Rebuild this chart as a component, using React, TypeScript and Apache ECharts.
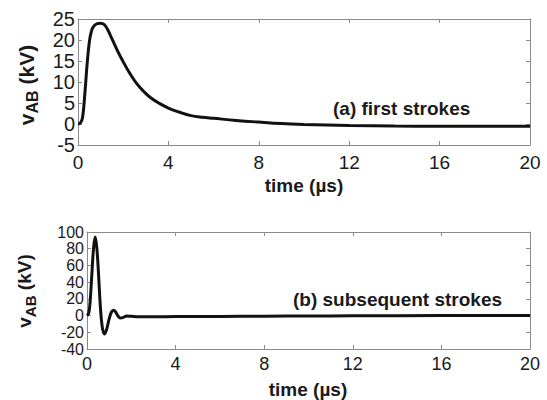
import React, { useEffect, useRef } from "react";
import * as echarts from "echarts";

const tA = [0, 0.1, 0.2, 0.3, 0.4, 0.5, 0.6, 0.7, 0.85, 1.0, 1.15, 1.3, 1.5, 1.75, 2.0, 2.3, 2.6, 2.9, 3.2, 3.6, 4.0, 4.5, 5, 5.5, 6, 7, 8, 9, 10, 12, 14, 16, 18, 20];
const vA = [0, 0.2, 1.5, 7, 14, 19.5, 22.2, 23.3, 23.9, 24, 23.7, 22.6, 20.3, 17.4, 14.8, 12, 9.6, 7.8, 6.3, 4.9, 3.8, 2.8, 2.0, 1.6, 1.35, 0.85, 0.45, 0.1, -0.1, -0.35, -0.5, -0.55, -0.55, -0.55];

const tB = [0, 0.08, 0.15, 0.22, 0.3, 0.37, 0.44, 0.52, 0.6, 0.68, 0.78, 0.88, 1.0, 1.1, 1.2, 1.3, 1.4, 1.5, 1.62, 1.8, 2.0, 2.3, 3, 4, 6, 8, 10, 12, 16, 20];
const vB = [0, 3, 20, 50, 82, 94, 82, 50, 12, -12, -22, -17, -4, 4, 6.5, 4, -0.5, -3, -2.5, -0.5, -0.8, -1.5, -1.5, -1.2, -1, -0.8, -0.5, -0.3, 0, 0];

const xTicks = [0, 4, 8, 12, 16, 20];
const yTicksA = [-5, 0, 5, 10, 15, 20, 25];
const yTicksB = [-40, -20, 0, 20, 40, 60, 80, 100];

const FONT = "'Liberation Sans', Arial, sans-serif";
const AX = "#8a8a8a";
const TXT = "#1a1a1a";

export default function App() {
  const ref = useRef<HTMLDivElement>(null);
  useEffect(() => {
    if (!ref.current) return;
    const chart = echarts.init(ref.current, undefined, { renderer: "svg" });
    const axisBase = (extra: any) => ({
      axisLine: { show: true, onZero: false, lineStyle: { color: AX, width: 1 } },
      axisTick: { show: true, inside: true, length: 4, lineStyle: { color: AX } },
      splitLine: { show: false },
      ...extra,
    });
    const xAx = (grid: number, pos: string, labels: boolean, margin: number, fs: number) =>
      axisBase({
        type: "value",
        gridIndex: grid,
        position: pos,
        min: xTicks[0],
        max: xTicks[xTicks.length - 1],
        interval: xTicks[1] - xTicks[0],
        axisLabel: { show: labels, margin, fontSize: fs, color: TXT, fontFamily: FONT, showMinLabel: true, showMaxLabel: true },
      });
    const yAx = (grid: number, pos: string, labels: boolean, ticks: number[], fs: number, lh: number, extraLabel: any = {}) =>
      axisBase({
        type: "value",
        gridIndex: grid,
        position: pos,
        min: ticks[0],
        max: ticks[ticks.length - 1],
        interval: ticks[1] - ticks[0],
        axisLabel: {
          show: labels,
          margin: 3,
          fontSize: fs,
          lineHeight: lh,
          color: TXT,
          fontFamily: FONT,
          showMinLabel: true,
          showMaxLabel: true,
          hideOverlap: false,
          ...extraLabel,
        },
      });
    const minB = yTicksB[0];
    const maxB = yTicksB[yTicksB.length - 1];
    const endsB = yAx(1, "left", true, yTicksB, 16, 15, {
      formatter: (v: number) => (v === minB || v === maxB ? String(v) : ""),
    });
    endsB.axisLine = { show: false };
    endsB.axisTick = { show: false };
    const rich = (big: number, small: number, pad: number) => ({
      v: { fontSize: big, fontWeight: "bold", fontFamily: FONT, fill: TXT, lineHeight: big, verticalAlign: "top" },
      s: { fontSize: small, fontWeight: "bold", fontFamily: FONT, fill: TXT, lineHeight: small, verticalAlign: "top", padding: [pad, 0, 0, 0] },
    });
    chart.setOption({
      animation: false,
      backgroundColor: "#ffffff",
      grid: [
        { left: 78, top: 19, width: 452, height: 126 },
        { left: 87, top: 232, width: 443, height: 117 },
      ],
      xAxis: [
        xAx(0, "bottom", true, 8, 19),
        xAx(0, "top", false, 8, 19),
        xAx(1, "bottom", true, 6, 18),
        xAx(1, "top", false, 6, 18),
      ],
      yAxis: [
        yAx(0, "left", true, yTicksA, 20, 18),
        yAx(0, "right", false, yTicksA, 20, 18),
        yAx(1, "left", true, yTicksB, 16, 15, { showMinLabel: false, showMaxLabel: false }),
        yAx(1, "right", false, yTicksB, 16, 15),
        endsB,
      ],
      series: [
        {
          type: "line",
          xAxisIndex: 0,
          yAxisIndex: 0,
          data: tA.map((t, i) => [t, vA[i]]),
          showSymbol: false,
          smooth: 0.4,
          lineStyle: { color: "#111", width: 3 },
        },
        {
          type: "line",
          xAxisIndex: 2,
          yAxisIndex: 2,
          data: tB.map((t, i) => [t, vB[i]]),
          showSymbol: false,
          smooth: 0.4,
          lineStyle: { color: "#111", width: 3 },
        },
      ],
      graphic: [
        {
          type: "text",
          x: 304,
          y: 185,
          style: { text: "time (\u00b5s)", font: `bold 19px ${FONT}`, fill: TXT, align: "center", verticalAlign: "middle" },
        },
        {
          type: "text",
          x: 308,
          y: 389,
          style: { text: "time (\u00b5s)", font: `bold 19px ${FONT}`, fill: TXT, align: "center", verticalAlign: "middle" },
        },
        {
          type: "text",
          x: 333,
          y: 108,
          style: { text: "(a) first strokes", font: `bold 19px ${FONT}`, fill: TXT, align: "left", verticalAlign: "middle" },
        },
        {
          type: "text",
          x: 293,
          y: 299,
          style: { text: "(b) subsequent strokes", font: `bold 19px ${FONT}`, fill: TXT, align: "left", verticalAlign: "middle" },
        },
        {
          type: "text",
          x: 26,
          y: 85,
          rotation: Math.PI / 2,
          style: {
            text: "{v|v}{s|AB}{v| (kV)}",
            rich: rich(21, 16, 9),
            align: "center",
            verticalAlign: "middle",
          },
        },
        {
          type: "text",
          x: 24,
          y: 291,
          rotation: Math.PI / 2,
          style: {
            text: "{v|v}{s|AB}{v| (kV)}",
            rich: rich(19, 15, 8),
            align: "center",
            verticalAlign: "middle",
          },
        },
      ],
    });
    return () => chart.dispose();
  }, []);
  return <div ref={ref} style={{ width: 547, height: 400, position: "absolute", left: 0, top: 0 }} />;
}
